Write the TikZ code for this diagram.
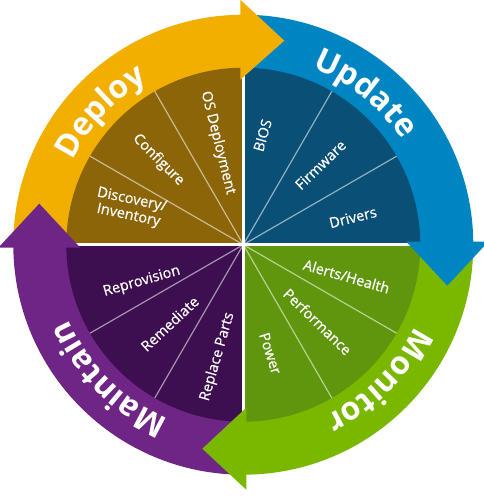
\documentclass[tikz,border=0pt]{standalone}
\usepackage{fontspec}
\setmainfont{Open Sans}
\newfontfamily\innerfont{Open Sans}[FakeBold=0.6]
\usepackage{tikz}
\usetikzlibrary{decorations.text}
\usepackage{xcolor}

\definecolor{deployring}{HTML}{F2AF00}
\definecolor{updatering}{HTML}{0085C3}
\definecolor{monitorring}{HTML}{7AB800}
\definecolor{maintainring}{HTML}{6E2585}
\definecolor{deploypie}{HTML}{8C6508}
\definecolor{updatepie}{HTML}{0A4F76}
\definecolor{monitorpie}{HTML}{5F960E}
\definecolor{maintainpie}{HTML}{3D0F50}

\newcommand{\ringfont}{\bfseries\fontsize{32}{32}\selectfont}

\tikzset{
  sublabel/.style={text=white, inner sep=0pt, font=\innerfont\fontsize{14.5}{16}\selectfont},
  ringtext/.style={decorate, decoration={text along path, text align=center,
    text color=white, text={|\ringfont|#1}}}
}

\begin{document}
\begin{tikzpicture}[x=1pt, y=1pt]
  \useasboundingbox (-243.3,-255.3) rectangle (239.7,244.7);

  % outer ring, one quarter per phase
  \fill[deployring] (180:170) arc[start angle=180, end angle=90, radius=170]
    -- (90:230) arc[start angle=90, end angle=180, radius=230] -- cycle;
  \fill[updatering] (90:170) arc[start angle=90, end angle=0, radius=170]
    -- (0:230) arc[start angle=0, end angle=90, radius=230] -- cycle;
  \fill[monitorring] (0:170) arc[start angle=0, end angle=-90, radius=170]
    -- (-90:230) arc[start angle=-90, end angle=0, radius=230] -- cycle;
  \fill[maintainring] (-90:170) arc[start angle=-90, end angle=-180, radius=170]
    -- (-180:230) arc[start angle=-180, end angle=-90, radius=230] -- cycle;

  % inner pie
  \fill[deploypie] (0,0) -- (180:177) arc[start angle=180, end angle=90, radius=177] -- cycle;
  \fill[updatepie] (0,0) -- (90:177) arc[start angle=90, end angle=0, radius=177] -- cycle;
  \fill[monitorpie] (0,0) -- (0:177) arc[start angle=0, end angle=-90, radius=177] -- cycle;
  \fill[maintainpie] (0,0) -- (-90:177) arc[start angle=-90, end angle=-180, radius=177] -- cycle;

  % thin spokes between the steps
  \foreach \a in {30,60,120,150,210,240,300,330}
    \draw[white, opacity=0.55, line width=1.2pt] (0,0) -- (\a:177);
  % white gaps between the quarters
  \draw[white, line width=3.5pt] (-178,0) -- (178,0) (0,-178) -- (0,178);

  % arrow heads, each on the start of the next quarter
  \fill[deployring] (-3,165) -- (-3,245) -- (41,204) -- cycle;
  \fill[updatering, rotate=-90] (-3,163) -- (-3,245) -- (41,204) -- cycle;
  \fill[monitorring, rotate=180] (-3,163) -- (-3,245) -- (41,204) -- cycle;
  \fill[maintainring, rotate=90] (-3,163) -- (-3,245) -- (41,204) -- cycle;

  % phase names along the ring
  \path[ringtext=Deploy] (182:190) arc[start angle=182, end angle=92, radius=190];
  \path[ringtext=Update] (96:190) arc[start angle=96, end angle=6, radius=190];
  \path[ringtext=Monitor] (0:190) arc[start angle=0, end angle=-90, radius=190];
  \path[ringtext=Maintain] (-90:190) arc[start angle=-90, end angle=-180, radius=190];

  % steps inside each quarter
  \node[sublabel, rotate=-76] (osdeploy) at (104:105) {OS Deployment};
  \node[sublabel, rotate=-45] (configure) at (135:120) {Configure};
  \node[sublabel, rotate=-12, align=center] (discovery) at (162:119) {Discovery/\\Inventory};
  \node[sublabel, rotate=74] (bios) at (80:111) {BIOS};
  \node[sublabel, rotate=44] (firmware) at (46:111) {Firmware};
  \node[sublabel, rotate=14] (drivers) at (14:113) {Drivers};
  \node[sublabel, rotate=-16] (alerts) at (-17:108) {Alerts/Health};
  \node[sublabel, rotate=-44] (performance) at (-46:107) {Performance};
  \node[sublabel, rotate=-72] (power) at (-76:112) {Power};
  \node[sublabel, rotate=16] (reprovision) at (200:108) {Reprovision};
  \node[sublabel, rotate=43] (remediate) at (227:108) {Remediate};
  \node[sublabel, rotate=74] (replace) at (257:115) {Replace Parts};

\end{tikzpicture}
\end{document}
